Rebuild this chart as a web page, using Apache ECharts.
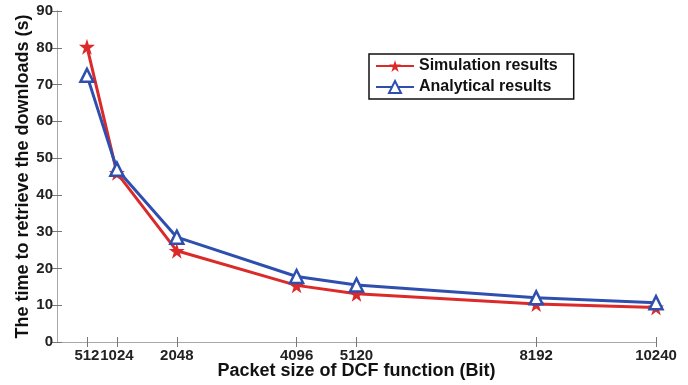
<!DOCTYPE html>
<html>
<head>
<meta charset="utf-8">
<script src="https://cdn.jsdelivr.net/npm/echarts@6/dist/echarts.min.js"></script>
<style>
  html, body { margin: 0; padding: 0; background: #fff; }
  #chart { width: 688px; height: 385px; }
</style>
</head>
<body>
<div id="chart"></div>
<script>
// packet sizes (Bit)
const packetSizes = [512, 1024, 2048, 4096, 5120, 8192, 10240];
// time to retrieve downloads (s)
const simulation = [80.3, 46.0, 24.8, 15.4, 13.1, 10.3, 9.4];
const analytical = [72.5, 47.0, 28.5, 17.8, 15.5, 12.0, 10.7];

const starPath = 'path://M50,0 L61,35 L98,35 L68,57 L79,91 L50,70 L21,91 L32,57 L2,35 L39,35 Z';
const red = '#dc2a2a';
const blue = '#2f4fae';
const frame = '#a8a8a8';
const font = 'Liberation Sans, Arial, sans-serif';

const chart = echarts.init(document.getElementById('chart'));

const pair = (xs, ys) => xs.map((x, i) => [x, ys[i]]);

chart.setOption({
  animation: false,
  textStyle: { fontFamily: font },
  grid: { left: 57, right: 32, top: 11, bottom: 43, outerBoundsMode: 'none', containLabel: false },
  legend: {
    left: 369, top: 54,
    orient: 'vertical',
    padding: [4, 16, 4, 6],
    itemGap: 5,
    itemWidth: 38, itemHeight: 15,
    borderColor: '#111', borderWidth: 1.5, backgroundColor: '#fff',
    textStyle: { fontSize: 16, fontWeight: 'bold', color: '#111', fontFamily: font },
    data: ['Simulation results', 'Analytical results']
  },
  xAxis: [{
    type: 'value', min: 0, max: 10240,
    name: 'Packet size of DCF function (Bit)',
    nameLocation: 'middle', nameGap: 20, nameMoveOverlap: false,
    nameTextStyle: { fontSize: 18, fontWeight: 'bold', color: '#111' },
    axisLine: { show: true, lineStyle: { color: frame, width: 1 } },
    axisTick: { inside: true, length: 5, customValues: packetSizes, lineStyle: { color: '#777' } },
    axisLabel: { customValues: packetSizes, hideOverlap: false, margin: 6,
      formatter: v => String(v),
      fontSize: 15, fontWeight: 'bold', color: '#222' },
    splitLine: { show: false }
  }, {
    type: 'value', min: 0, max: 10240, position: 'top',
    axisLine: { show: true, lineStyle: { color: frame, width: 1 } },
    axisTick: { inside: true, length: 5, customValues: packetSizes, lineStyle: { color: '#777' } },
    axisLabel: { show: false },
    splitLine: { show: false }
  }],
  yAxis: [{
    type: 'value', min: 0, max: 90, interval: 10,
    name: 'The time to retrieve the downloads (s)',
    nameLocation: 'middle', nameGap: 25, nameMoveOverlap: false,
    nameTextStyle: { fontSize: 18, fontWeight: 'bold', color: '#111' },
    axisLine: { show: true, lineStyle: { color: frame, width: 1 } },
    axisTick: { show: true, inside: true, length: 5, lineStyle: { color: '#777' } },
    axisLabel: { margin: 4, fontSize: 15, fontWeight: 'bold', color: '#222' },
    splitLine: { show: false }
  }, {
    type: 'value', min: 0, max: 90, interval: 10, position: 'right',
    axisLine: { show: true, lineStyle: { color: frame, width: 1 } },
    axisTick: { show: true, inside: true, length: 5, lineStyle: { color: '#777' } },
    axisLabel: { show: false },
    splitLine: { show: false }
  }],
  series: [{
    name: 'Simulation results',
    type: 'line',
    data: pair(packetSizes, simulation),
    symbol: starPath, symbolSize: 16,
    lineStyle: { color: red, width: 3 },
    itemStyle: { color: red },
    z: 2
  }, {
    name: 'Analytical results',
    type: 'line',
    data: pair(packetSizes, analytical),
    symbol: 'triangle', symbolSize: 13,
    lineStyle: { color: blue, width: 3 },
    itemStyle: { color: '#fff', borderColor: blue, borderWidth: 2.5 },
    z: 3
  }]
});
</script>
</body>
</html>
